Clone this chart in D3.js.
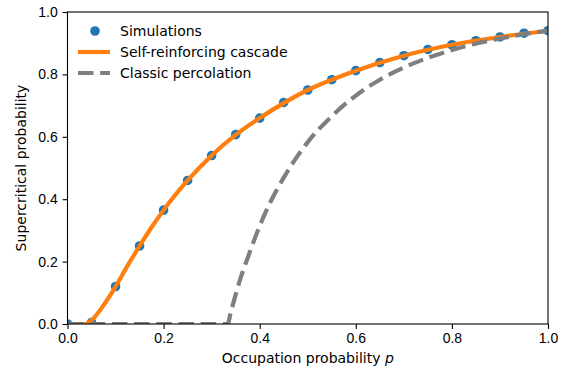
<!DOCTYPE html>
<html>
<head>
<meta charset="utf-8">
<script src="https://cdn.jsdelivr.net/npm/d3@7"></script>
<style>
  html, body { margin: 0; padding: 0; background: #fff; }
  svg { display: block; font-family: "DejaVu Sans", sans-serif; }
  .tick text { font-size: 14px; fill: #000; }
</style>
</head>
<body>
<svg id="viz" width="566" height="368"></svg>
<script>
// simulation points
const simP = [0, 0.05, 0.1, 0.15, 0.2, 0.25, 0.3, 0.35, 0.4, 0.45, 0.5,
              0.55, 0.6, 0.65, 0.7, 0.75, 0.8, 0.85, 0.9, 0.95, 1.0];
const simVal = [0, 0.005, 0.12, 0.25, 0.365, 0.46, 0.54, 0.607, 0.66, 0.71, 0.75,
                0.783, 0.812, 0.838, 0.86, 0.88, 0.895, 0.908, 0.92, 0.932, 0.94];

// self-reinforcing cascade curve
const cascP = [0, 0.036, 0.05, 0.075, 0.1, 0.125, 0.15, 0.175, 0.2, 0.25, 0.3,
               0.35, 0.4, 0.5, 0.6, 0.7, 0.8, 0.9, 1.0];
const cascVal = [0, 0, 0.012, 0.06, 0.12, 0.187, 0.25, 0.31, 0.365, 0.46, 0.54,
                 0.606, 0.66, 0.75, 0.812, 0.86, 0.895, 0.92, 0.94];

// classic percolation curve
const percP = [0, 0.3333, 0.34, 0.35, 0.36, 0.375, 0.4, 0.425, 0.45, 0.475, 0.5,
               0.55, 0.6, 0.65, 0.7, 0.75, 0.8, 0.85, 0.9, 0.95, 1.0];
const percVal = [0, 0, 0.039, 0.094, 0.146, 0.212, 0.314, 0.399, 0.469, 0.53, 0.583,
                 0.666, 0.732, 0.783, 0.822, 0.853, 0.878, 0.899, 0.915, 0.929, 0.94];

const xTicks = [0, 0.2, 0.4, 0.6, 0.8, 1.0];
const yTicks = [0, 0.2, 0.4, 0.6, 0.8, 1.0];
const legendLabels = ["Simulations", "Self-reinforcing cascade", "Classic percolation"];

const BLUE = "#1f77b4", ORANGE = "#ff7f0e", GRAY = "#7f7f7f";
const LW = 4.2, DASH = "15.5,6.7", FS = 14;

const svg = d3.select("#viz");
const margin = { left: 67.5, right: 18, top: 12, bottom: 44 };
const W = 566, H = 368;

const x = d3.scaleLinear().domain([0, 1]).range([margin.left, W - margin.right]);
const y = d3.scaleLinear().domain([0, 1]).range([H - margin.bottom, margin.top]);

svg.append("defs").append("clipPath").attr("id", "plotclip")
  .append("rect")
  .attr("x", x(0)).attr("y", y(1))
  .attr("width", x(1) - x(0)).attr("height", y(0) - y(1));

const plot = svg.append("g").attr("clip-path", "url(#plotclip)");

// dots first, then lines on top (matplotlib plotting order)
plot.selectAll("circle.sim")
  .data(simP.map((p, i) => [p, simVal[i]]))
  .join("circle")
  .attr("class", "sim")
  .attr("cx", d => x(d[0]))
  .attr("cy", d => y(d[1]))
  .attr("r", 4.8)
  .attr("fill", BLUE);

const line = d3.line()
  .x(d => x(d[0]))
  .y(d => y(d[1]))
  .curve(d3.curveMonotoneX);

plot.append("path")
  .datum(cascP.map((p, i) => [p, cascVal[i]]))
  .attr("d", line)
  .attr("fill", "none")
  .attr("stroke", ORANGE)
  .attr("stroke-width", LW)
  .attr("stroke-linejoin", "round");

plot.append("path")
  .datum(percP.map((p, i) => [p, percVal[i]]))
  .attr("d", line)
  .attr("fill", "none")
  .attr("stroke", GRAY)
  .attr("stroke-width", LW)
  .attr("stroke-dasharray", DASH);

// axes
const TS = 4.9;
const xAxis = svg.append("g")
  .attr("transform", `translate(0,${y(0)})`)
  .call(d3.axisBottom(x).tickValues(xTicks).tickFormat(d3.format(".1f")).tickSize(TS).tickPadding(4.5));
const yAxis = svg.append("g")
  .attr("transform", `translate(${x(0)},0)`)
  .call(d3.axisLeft(y).tickValues(yTicks).tickFormat(d3.format(".1f")).tickSize(TS).tickPadding(4.9));
[xAxis, yAxis].forEach(g => {
  g.select(".domain").remove();
  g.selectAll(".tick line").attr("stroke", "#000").attr("stroke-width", 1.1);
});

// spines
svg.append("rect")
  .attr("x", x(0)).attr("y", y(1))
  .attr("width", x(1) - x(0)).attr("height", y(0) - y(1))
  .attr("fill", "none").attr("stroke", "#000").attr("stroke-width", 1.1);

// axis labels
const xl = svg.append("text")
  .attr("x", (x(0) + x(1)) / 2).attr("y", 363)
  .attr("text-anchor", "middle").attr("font-size", FS);
xl.append("tspan").text("Occupation probability ");
xl.append("tspan").attr("font-style", "italic").text("p");

svg.append("text")
  .attr("transform", `translate(26,${(y(0) + y(1)) / 2}) rotate(-90)`)
  .attr("text-anchor", "middle").attr("font-size", FS)
  .text("Supercritical probability");

// legend
const leg = svg.append("g");
const rows = [31, 52, 73];
leg.append("circle").attr("cx", 95).attr("cy", rows[0]).attr("r", 4.8).attr("fill", BLUE);
leg.append("line").attr("x1", 78).attr("x2", 110).attr("y1", rows[1]).attr("y2", rows[1])
  .attr("stroke", ORANGE).attr("stroke-width", LW);
leg.append("line").attr("x1", 78).attr("x2", 110).attr("y1", rows[2]).attr("y2", rows[2])
  .attr("stroke", GRAY).attr("stroke-width", LW).attr("stroke-dasharray", DASH);
legendLabels.forEach((t, i) => {
  leg.append("text").attr("x", 120).attr("y", rows[i] + 5)
    .attr("font-size", FS).text(t);
});
</script>
</body>
</html>
